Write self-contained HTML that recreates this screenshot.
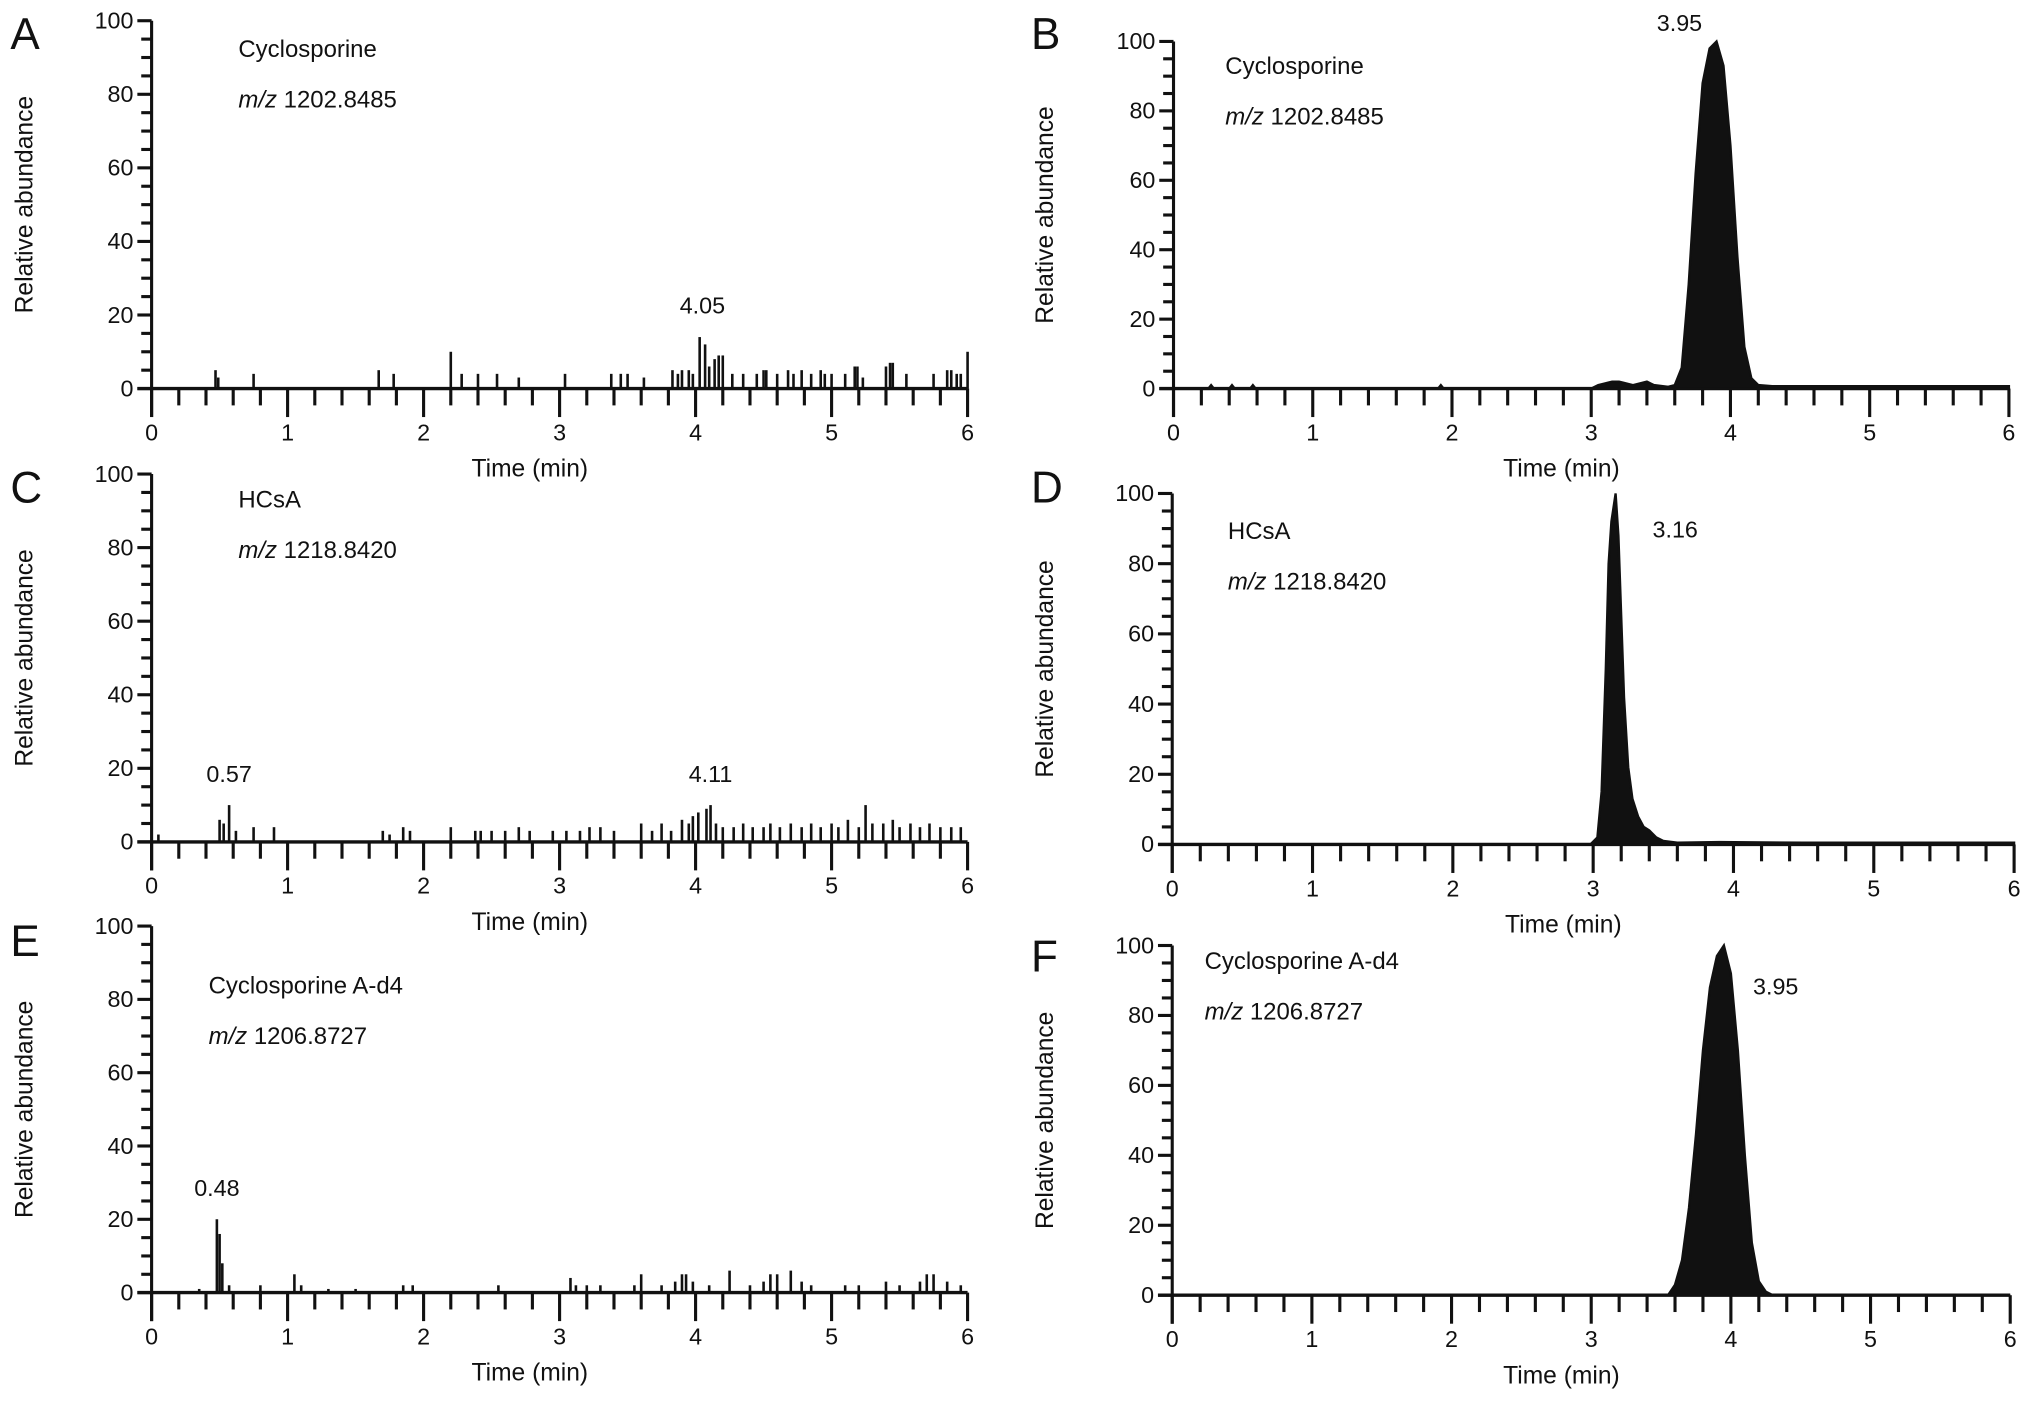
<!DOCTYPE html>
<html><head><meta charset="utf-8"><style>
html,body{margin:0;padding:0;background:#fff;}
svg{display:block;font-family:"Liberation Sans",sans-serif;}
</style></head><body>
<svg id="fig" width="2031" height="1404" viewBox="0 0 1568 1084" xmlns="http://www.w3.org/2000/svg"></svg>
<script>
// ---- data ----
const xTicks = [0,1,2,3,4,5,6];
const yTicks = [0,20,40,60,80,100];
// Panel A spikes
const aTimes = [0.47,0.49,0.75,1.67,1.78,2.2,2.28,2.4,2.54,2.7,3.04,3.38,3.45,3.5,3.62,3.83,3.87,3.9,3.95,3.98,4.03,4.07,4.1,4.14,4.17,4.2,4.27,4.35,4.45,4.5,4.52,4.6,4.68,4.72,4.78,4.85,4.92,4.95,5.0,5.1,5.17,5.19,5.23,5.4,5.43,5.45,5.55,5.75,5.85,5.88,5.92,5.95,6.0];
const aVals  = [5,3,4,5,4,10,4,4,4,3,4,4,4,4,3,5,4,5,5,4,14,12,6,8,9,9,4,4,4,5,5,4,5,4,5,4,5,4,4,4,6,6,3,6,7,7,4,4,5,5,4,4,10];
// Panel C spikes
const cTimes = [0.05,0.5,0.53,0.57,0.62,0.75,0.9,1.7,1.75,1.85,1.9,2.2,2.38,2.42,2.5,2.6,2.7,2.78,2.95,3.05,3.15,3.22,3.3,3.4,3.6,3.68,3.75,3.82,3.9,3.95,3.98,4.02,4.08,4.11,4.15,4.2,4.28,4.35,4.42,4.5,4.55,4.62,4.7,4.78,4.85,4.92,5.0,5.05,5.12,5.2,5.25,5.3,5.38,5.45,5.5,5.58,5.65,5.72,5.8,5.88,5.95];
const cVals  = [2,6,5,10,3,4,4,3,2,4,3,4,3,3,3,3,4,3,3,3,3,4,4,3,5,3,5,3,6,5,7,8,9,10,5,4,4,5,4,4,5,4,5,4,5,4,5,4,6,4,10,5,5,6,4,5,4,5,4,4,4];
// Panel E spikes
const eTimes = [0.35,0.48,0.5,0.52,0.57,0.8,1.05,1.1,1.3,1.5,1.85,1.92,2.55,3.08,3.12,3.2,3.3,3.55,3.6,3.75,3.85,3.9,3.93,3.98,4.1,4.25,4.4,4.5,4.55,4.6,4.7,4.78,4.85,5.1,5.2,5.4,5.5,5.65,5.7,5.75,5.85,5.95];
const eVals  = [1,20,16,8,2,2,5,2,1,1,2,2,2,4,2,2,2,2,5,2,3,5,5,3,2,6,2,3,5,5,6,3,2,2,2,3,2,3,5,5,3,2];
// Panel B profile
const bTimes = [0.0,0.25,0.27,0.29,0.4,0.42,0.44,0.55,0.57,0.59,1.9,1.92,1.94,3.0,3.05,3.1,3.15,3.2,3.25,3.3,3.35,3.4,3.45,3.55,3.6,3.65,3.7,3.75,3.8,3.85,3.9,3.95,4.0,4.05,4.1,4.15,4.2,4.3,4.6,5.0,5.5,6.0];
const bVals  = [0,0,1,0,0,1,0,0,1,0,0,1,0,0,1,1.5,2,2,1.5,1,1.5,2,1,0.5,1,6,30,62,88,98,100,93,70,38,12,3,1,0.7,0.7,0.7,0.7,0.7];
// Panel D profile
const dTimes = [0.0,2.98,3.03,3.06,3.09,3.11,3.13,3.16,3.18,3.2,3.22,3.25,3.28,3.32,3.36,3.4,3.45,3.5,3.6,3.9,4.5,5.5,6.0];
const dVals  = [0,0,2,15,50,80,92,100,88,65,42,22,13,8,5,4,2,1,0.5,0.7,0.5,0.5,0.5];
// Panel F profile
const fTimes = [0.0,3.55,3.6,3.65,3.7,3.75,3.8,3.85,3.9,3.95,4.0,4.05,4.1,4.15,4.2,4.25,4.3,6.0];
const fVals  = [0,0,3,10,25,46,70,88,97,100,92,70,40,15,4,1,0,0];

const panels = [
 {id:'a',letter:'A',lx:8,ly:38,x0:117,x1:747,y0:300,y1:16,name:'Cyclosporine',mz:'1202.8485',nx:184,ny:44,type:'spike',t:aTimes,v:aVals,ann:[{t:4.05,v:14,txt:'4.05',dx:0,dy:-18}]},
 {id:'b',letter:'B',lx:796,ly:38,x0:906,x1:1551,y0:300,y1:32,name:'Cyclosporine',mz:'1202.8485',nx:946,ny:57,type:'area',t:bTimes,v:bVals,ann:[{t:3.95,v:100,txt:'3.95',dx:-34,dy:-8}]},
 {id:'c',letter:'C',lx:8,ly:388,x0:117,x1:747,y0:650,y1:366,name:'HCsA',mz:'1218.8420',nx:184,ny:392,type:'spike',t:cTimes,v:cVals,ann:[{t:0.57,v:10,txt:'0.57',dx:0,dy:-18},{t:4.11,v:10,txt:'4.11',dx:0,dy:-18}]},
 {id:'d',letter:'D',lx:796,ly:388,x0:905,x1:1555,y0:652,y1:381,name:'HCsA',mz:'1218.8420',nx:948,ny:416,type:'area',t:dTimes,v:dVals,ann:[{t:3.16,v:100,txt:'3.16',dx:46,dy:34}]},
 {id:'e',letter:'E',lx:8,ly:738,x0:117,x1:747,y0:998,y1:715,name:'Cyclosporine A-d4',mz:'1206.8727',nx:161,ny:767,type:'spike',t:eTimes,v:eVals,ann:[{t:0.48,v:20,txt:'0.48',dx:0,dy:-18}]},
 {id:'f',letter:'F',lx:796,ly:750,x0:905,x1:1552,y0:1000,y1:730,name:'Cyclosporine A-d4',mz:'1206.8727',nx:930,ny:748,type:'area',t:fTimes,v:fVals,ann:[{t:3.95,v:100,txt:'3.95',dx:40,dy:38}]}
];

const NS='http://www.w3.org/2000/svg';
const svg=document.getElementById('fig');
function mk(tag,attrs,parent){const e=document.createElementNS(NS,tag);for(const k in attrs)e.setAttribute(k,attrs[k]);(parent||svg).appendChild(e);return e;}

panels.forEach(p=>{
  const g=mk('g',{});
  
  
  const sx=t=>p.x0+(p.x1-p.x0)*t/6;
  const sy=v=>p.y0+(p.y1-p.y0)*v/100;
  const L=mk('text',{x:p.lx,y:p.ly,'font-size':34,fill:'#111'},g);L.textContent=p.letter;
  
  
  const ya=mk('line',{x1:p.x0,x2:p.x0,y1:sy(100),y2:p.y0+22,stroke:'#111','stroke-width':2.4},g);
  
  
  for(let v=0;v<=100;v+=5){const maj=v%20===0;mk('line',{x1:p.x0-(maj?11:8),x2:p.x0,y1:sy(v),y2:sy(v),stroke:'#111','stroke-width':2.4},g);}
  yTicks.forEach(v=>{const t=mk('text',{x:p.x0-14,y:sy(v)+6,'font-size':18,'text-anchor':'end',fill:'#111'},g);t.textContent=v;
    
    });
  const xa=mk('line',{x1:p.x0-11,x2:p.x1,y1:p.y0,y2:p.y0,stroke:'#111','stroke-width':2.6},g);
  
  
  for(let i=0;i<=30;i++){const t=i/5;const maj=i%5===0;mk('line',{x1:sx(t),x2:sx(t),y1:p.y0,y2:p.y0+(maj?22:13),stroke:'#111','stroke-width':2.4},g);}
  xTicks.forEach(v=>{const t=mk('text',{x:sx(v),y:p.y0+40,'font-size':18,'text-anchor':'middle',fill:'#111'},g);t.textContent=v;
    
    });
  const xt=mk('text',{x:(p.x0+p.x1)/2-23,y:p.y0+68,'font-size':19,'text-anchor':'middle',fill:'#111'},g);xt.textContent='Time (min)';
  
  
  const ym=(p.y0+sy(100))/2;
  const yt=mk('text',{x:0,y:0,'font-size':19,'text-anchor':'middle',fill:'#111',transform:`translate(${p.lx+17},${ym}) rotate(-90)`},g);yt.textContent='Relative abundance';
  
  
  const n=mk('text',{x:p.nx,y:p.ny,'font-size':18.5,fill:'#111'},g);n.textContent=p.name;
  
  
  const m=mk('text',{x:p.nx,y:p.ny+39,'font-size':18.5,fill:'#111'},g);
  
  
  const mi=mk('tspan',{'font-style':'italic'},m);mi.textContent='m/z';
  const mv=mk('tspan',{},m);mv.textContent=' '+p.mz;
  if(p.type==='spike'){
    p.t.forEach((t,i)=>{const l=mk('line',{x1:sx(t),x2:sx(t),y1:p.y0,y2:sy(p.v[i]),stroke:'#111','stroke-width':2},g);
      
      });
  } else {
    let d='M'+sx(p.t[0])+','+p.y0;
    p.t.forEach((t,i)=>{d+=' L'+sx(t)+','+sy(p.v[i]);});
    d+=' L'+sx(p.t[p.t.length-1])+','+p.y0+' Z';
    const a=mk('path',{d:d,fill:'#111',stroke:'#111','stroke-width':1.8},g);
    
    
  }
  p.ann.forEach(a=>{const t=mk('text',{x:sx(a.t)+a.dx,y:sy(a.v)+a.dy,'font-size':18,'text-anchor':'middle',fill:'#111'},g);t.textContent=a.txt;
    
    });
});
</script>
</body></html>
